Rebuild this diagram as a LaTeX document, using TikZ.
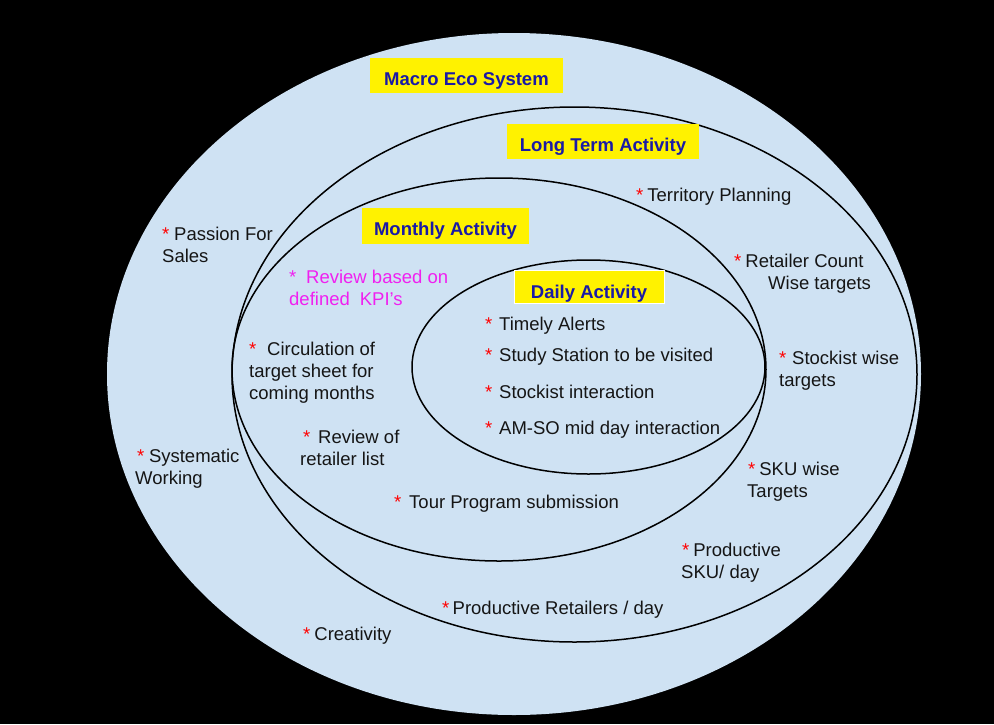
\documentclass[tikz,border=0pt]{standalone}
\usepackage{fontspec}
\setmainfont{Liberation Sans}
\usetikzlibrary{shapes.geometric}
\definecolor{skyfill}{HTML}{CFE2F3}
\definecolor{labelblue}{RGB}{26,26,166}
\definecolor{kpipink}{HTML}{F020F0}
\definecolor{inkblack}{HTML}{151515}
\newcommand{\rst}[1]{{\color{red}*}\hspace{#1pt}}
\newcommand{\pst}[1]{*\hspace{#1pt}}
\begin{document}
\begin{tikzpicture}[x=1pt,y=-1pt,
  ring/.style={ellipse, draw=black, line width=1.5pt, inner sep=0pt},
  tag/.style={fill=yellow, text=labelblue, font=\bfseries\fontsize{18.5}{22}\selectfont, inner sep=0pt, text height=19pt, text depth=0pt},
  item/.style={anchor=base west, align=left, inner sep=0pt, font=\fontsize{18.5}{22}\selectfont, text=inkblack}]
\fill[black] (0,0) rectangle (994,724);
\useasboundingbox (0,0) rectangle (994,724);
% ellipses
\node[ellipse, fill=skyfill, minimum width=814pt, minimum height=682pt, inner sep=0pt] (macro) at (514,374) {};
\node[ring, minimum width=685pt, minimum height=535pt] (long) at (574.5,374.5) {};
\node[ring, minimum width=534pt, minimum height=383pt] (monthly) at (499,369.5) {};
\node[ring, minimum width=353pt, minimum height=214pt] (daily) at (588.5,367) {};
% labels
\node[tag, minimum width=193pt, minimum height=35pt] (tmacro) at (466.5,75.5) {Macro Eco System};
\node[tag, minimum width=192pt, minimum height=35pt] (tlong) at (603,141.5) {Long Term Activity};
\node[tag, minimum width=167pt, minimum height=36pt] (tmonth) at (445.5,226) {Monthly Activity};
\node[tag, minimum width=150pt, minimum height=33pt, draw=white, line width=0.8pt, text height=23pt] (tdaily) at (589,286.5) {Daily Activity};
% macro items
\node[item] (passion) at (162,262) {\rst{4.8}Passion For\\Sales};
\node[item] (system) at (135,484) {\hspace*{2pt}\rst{4.6}Systematic\\Working};
\node[item] (creat) at (303,640) {\rst{4}Creativity};
% long term items
\node[item] (terr) at (636,201) {\rst{4}Territory Planning};
\node[item] (retcount) at (734,289) {\rst{4}Retailer Count\\\hspace*{34pt}Wise targets};
\node[item] (stockist) at (779,386) {\rst{5.8}Stockist wise\\targets};
\node[item] (skuwise) at (747,497) {\hspace*{1pt}\rst{4}SKU wise\\Targets};
\node[item] (prodsku) at (681,578) {\hspace*{1pt}\rst{4}Productive\\SKU/ day};
\node[item] (prodret) at (442,614) {\rst{3.3}Productive Retailers / day};
% monthly items
\node[item, text=kpipink] (kpi) at (289,305) {\pst{9.8}Review based on\\defined\hspace{10pt}KPI's};
\node[item] (circ) at (249,399) {\rst{10.8}Circulation of\\target sheet for\\coming months};
\node[item] (revlist) at (300,465) {\hspace*{3pt}\rst{7.8}Review of\\retailer list};
\node[item] (tour) at (394,508) {\rst{7.8}Tour Program submission};
% daily items
\node[item] (alerts) at (485,330.5) {\rst{6.8}Timely Alerts};
\node[item] (study) at (485,361) {\rst{6.8}Study Station to be visited};
\node[item] (stint) at (485,398.5) {\rst{6.8}Stockist interaction};
\node[item] (amso) at (485,434.5) {\rst{6.8}AM-SO mid day interaction};
\end{tikzpicture}
\end{document}
